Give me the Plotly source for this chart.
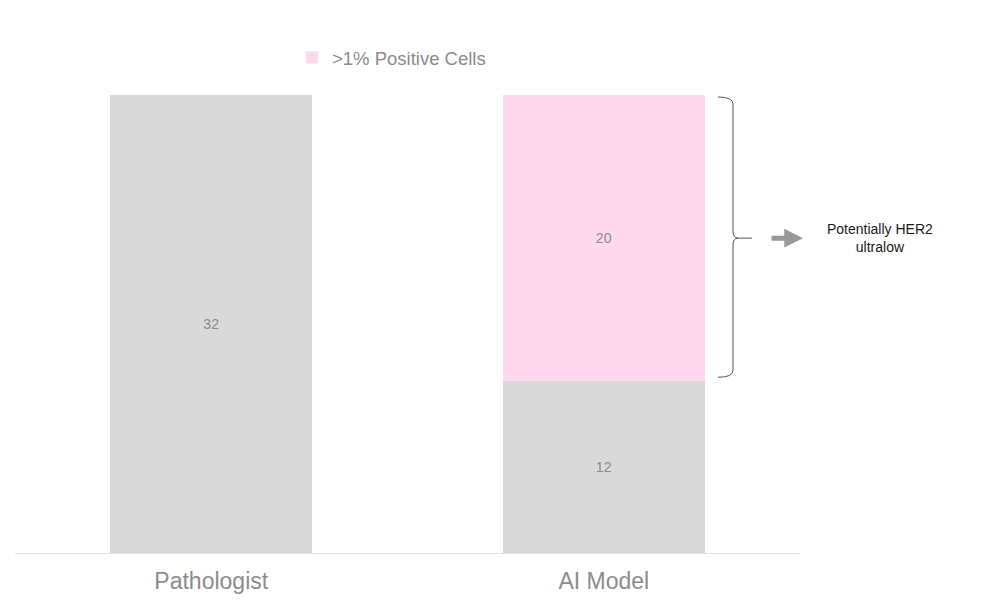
import plotly.graph_objects as go

# data
categories = ["Pathologist", "AI Model"]
below_1pct = [32, 12]        # grey part
above_1pct = [None, 20]      # pink part: >1% Positive Cells
legend_name = ">1% Positive Cells"
note_text = "Potentially HER2<br>ultralow"

GREY = "#d9d9d9"
PINK = "#ffd9eb"
TXT = "#8c8c8c"

fig = go.Figure()

fig.add_trace(go.Bar(
    x=categories, y=below_1pct,
    marker=dict(color=GREY, line=dict(width=0)),
    text=below_1pct, textposition="inside", insidetextanchor="middle",
    textfont=dict(color=TXT, size=14),
    showlegend=False, hoverinfo="skip",
))
fig.add_trace(go.Bar(
    x=categories, y=above_1pct, name=legend_name,
    marker=dict(color=PINK, line=dict(width=0)),
    text=above_1pct, textposition="inside", insidetextanchor="middle",
    textfont=dict(color=TXT, size=14),
    hoverinfo="skip",
))

# page has an 8px body margin, so the figure is a bit smaller than the window
W, H = 970, 588
L, T = 7, 87
pw, ph = 785, 458
R, B = W - L - pw, H - T - ph
ymax = max(b + (a or 0) for a, b in zip(above_1pct, below_1pct))
px_per_unit = ph / ymax

def px(x):  # screen x -> paper
    return (x - 15) / pw

def dy(p):  # pixel offset -> data units
    return p / px_per_unit

top = below_1pct[1] + above_1pct[1] - dy(2)
bot = below_1pct[1] + dy(4)
mid = below_1pct[1] + above_1pct[1] / 2

xe, xv, xt, xo = px(718), px(733), px(738), px(752)
path = (
    f"M {xe},{top} Q {xv},{top} {xv},{top - dy(7)} "
    f"L {xv},{mid + dy(7)} Q {xv},{mid} {xt},{mid} L {xo},{mid} "
    f"M {xt},{mid} Q {xv},{mid} {xv},{mid - dy(7)} "
    f"L {xv},{bot + dy(7)} Q {xv},{bot} {xe},{bot}"
)
fig.add_shape(type="path", path=path, xref="paper", yref="y",
              line=dict(color="#555555", width=1))

fig.add_annotation(x=px(803), y=mid, xref="paper", yref="y",
                   ax=-33, ay=0, text="", showarrow=True,
                   arrowhead=2, arrowsize=0.75, arrowwidth=5,
                   arrowcolor="#999999")
fig.add_annotation(x=px(880), y=mid, xref="paper", yref="y",
                   text=note_text, showarrow=False, xanchor="center",
                   font=dict(size=14, color="#1a1a1a"))

fig.update_layout(
    width=W, height=H,
    barmode="stack", bargap=0.485,
    margin=dict(l=L, r=R, t=T, b=B),
    plot_bgcolor="white", paper_bgcolor="white",
    font=dict(family="Liberation Sans, Arial, sans-serif"),
    legend=dict(orientation="h", x=px(292), y=1 + (95 - 58) / ph,
                xanchor="left", yanchor="middle",
                font=dict(size=18.5, color=TXT), itemwidth=30),
    xaxis=dict(showline=True, linecolor="#e3e3e3", linewidth=1,
               ticks="outside", ticklen=7, tickcolor="rgba(0,0,0,0)",
               tickfont=dict(size=23, color=TXT), showgrid=False,
               automargin=False),
    yaxis=dict(visible=False, range=[0, ymax]),
)

fig.write_html("out.html")
